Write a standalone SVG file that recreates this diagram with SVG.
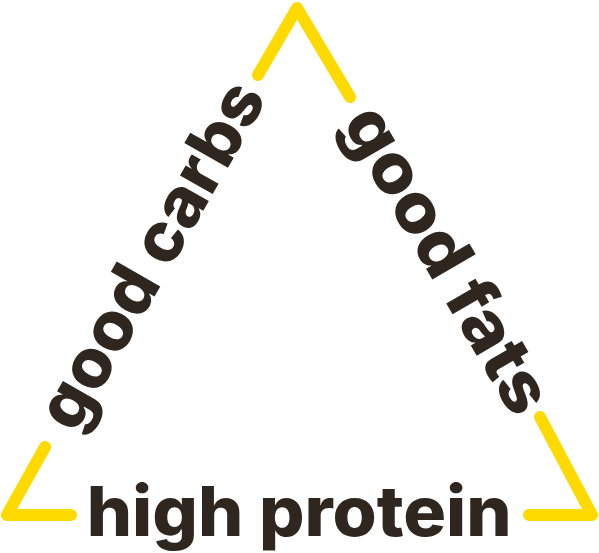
<svg xmlns="http://www.w3.org/2000/svg" width="599" height="553" viewBox="0 0 599 553">
  <style>
    .edge { fill: none; stroke: #FFDA00; stroke-width: 12; stroke-linecap: round; stroke-linejoin: round; }
    .label { font-family: "Inter", "Lato", "Liberation Sans", sans-serif; font-weight: 800; font-size: 69px; fill: #2F261F; text-anchor: middle; }
  </style>
  <rect width="599" height="553" fill="#ffffff"/>
  <g id="connectors">
    <polyline class="edge" points="258,75 297,8 350,97"/>
    <polyline class="edge" points="45,447 7,515 71,515"/>
    <polyline class="edge" points="540,417 592,515 529,515"/>
  </g>
  <g id="node-good-carbs" transform="translate(153.3,256.1) rotate(-60.3)">
    <text class="label" x="0" y="21" textLength="388" lengthAdjust="spacingAndGlyphs">good carbs</text>
  </g>
  <g id="node-good-fats" transform="translate(445.6,260.7) rotate(59.8)">
    <text class="label" x="0" y="21" textLength="344" lengthAdjust="spacingAndGlyphs">good fats</text>
  </g>
  <g id="node-high-protein">
    <text class="label" x="299.2" y="536" textLength="425" lengthAdjust="spacingAndGlyphs">high protein</text>
  </g>
</svg>
